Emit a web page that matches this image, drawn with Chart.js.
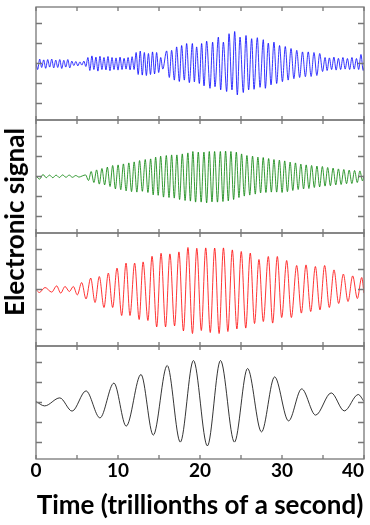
<!DOCTYPE html>
<html>
<head>
<meta charset="utf-8">
<script src="https://cdn.jsdelivr.net/npm/chart.js@4.4.1/dist/chart.umd.min.js"></script>
<style>
  html, body { margin: 0; padding: 0; background: #fff; overflow: hidden; }
  body { width: 370px; height: 525px; position: relative; font-family: Lato, sans-serif; }
  .panel { position: absolute; left: 0; width: 370px; }
  #ytitle {
    position: absolute; left: 14px; top: 222px;
    transform: translate(-50%, -50%) rotate(-90deg);
    font: bold 26px Lato, sans-serif; white-space: nowrap; color: #000;
  }
</style>
</head>
<body>
<div class="panel" style="top:0;height:122px"><canvas id="c1"></canvas></div>
<div class="panel" style="top:118px;height:117px"><canvas id="c2"></canvas></div>
<div class="panel" style="top:231px;height:117px"><canvas id="c3"></canvas></div>
<div class="panel" style="top:344px;height:181px"><canvas id="c4"></canvas></div>
<div id="ytitle">Electronic signal</div>
<script>
// time axis (trillionths of a second)
const xTicks = [0, 5, 10, 15, 20, 25, 30, 35, 40];
const xLabels = [0, 10, 20, 30, 40];
const yTicks = [-2, -1, 0, 1, 2];

// blue signal: turning points
const blueT = [0, 0.2, 0.45, 0.69, 0.94, 1.18, 1.43, 1.67, 1.92, 2.16, 2.41, 2.65, 2.9, 3.14, 3.39, 3.63, 3.88, 4.12, 4.37, 4.61, 4.86, 5.1, 5.35, 5.59, 5.84, 6.08,
  6.33, 6.57, 6.82, 7.06, 7.31, 7.55, 7.8, 8.04, 8.29, 8.53, 8.78, 9.02, 9.27, 9.51, 9.76, 10.0, 10.25, 10.49, 10.74, 10.98, 11.23, 11.47, 11.72, 11.96,
  12.21, 12.46, 12.71, 12.96, 13.21, 13.46, 13.71, 13.96, 14.21, 14.46, 14.71, 14.96, 15.21, 15.46,
  15.93, 16.26, 16.54, 16.87, 17.15, 17.48, 17.76, 18.09, 18.37, 18.7, 19.07, 19.31, 19.59, 19.92, 20.2, 20.49, 20.81, 21.22, 21.54, 21.83,
  22.24, 22.52, 22.85, 23.25, 23.54, 23.9, 24.23, 24.55, 24.88, 25.28, 25.61, 25.93, 26.3, 26.59, 26.99, 27.32, 27.72, 27.97, 28.33, 28.66, 29.02, 29.35,
  29.7, 30.05, 30.4, 30.75, 31.1, 31.45, 31.8, 32.15, 32.5, 32.85, 33.2, 33.55, 33.9, 34.25, 34.6, 34.95,
  35.25, 35.5, 35.78, 36.05, 36.33, 36.6, 36.88, 37.15, 37.43, 37.7, 37.98, 38.25, 38.53, 38.8, 39.08, 39.35, 39.63, 39.9, 40];
const blueV = [0.05, -0.3, 0.22, -0.2, 0.18, -0.24, 0.2, -0.18, 0.22, -0.22, 0.17, -0.2, 0.2, -0.25, 0.16, -0.18, 0.2, -0.22, 0.12, -0.1, 0.1, -0.12, 0.08, -0.08, 0.12, -0.15,
  0.3, -0.35, 0.38, -0.3, 0.32, -0.38, 0.36, -0.3, 0.3, -0.32, 0.35, -0.36, 0.3, -0.3, 0.28, -0.33, 0.32, -0.3, 0.26, -0.28, 0.3, -0.32, 0.34, -0.3,
  0.55, -0.55, 0.62, -0.58, 0.55, -0.6, 0.5, -0.55, 0.58, -0.52, 0.55, -0.45, 0.3, -0.28,
  0.63, -0.7, 0.66, -0.83, 0.83, -0.9, 0.9, -0.83, 1.0, -0.96, 1.0, -0.92, 0.83, -1.0, 1.0, -1.12, 1.12, -1.24, 1.07, -1.16,
  1.32, -1.32, 1.07, -1.4, 1.49, -1.32, 1.6, -1.57, 1.32, -1.45, 1.4, -1.32, 1.24, -1.29, 1.29, -1.19, 1.19, -1.24, 1.02, -1.07, 1.07, -1.0,
  0.9, -0.91, 0.85, -0.83, 0.75, -0.76, 0.66, -0.7, 0.58, -0.66, 0.58, -0.65, 0.55, -0.6, 0.5, -0.4,
  0.3, -0.35, 0.28, -0.3, 0.32, -0.33, 0.26, -0.3, 0.3, -0.28, 0.25, -0.3, 0.3, -0.28, 0.25, -0.3, 0.45, -0.35, -0.2];

// green signal
const greenT = [0, 0.45, 0.85, 1.25, 1.65, 2.05, 2.45, 2.85, 3.25, 3.65, 4.05, 4.45, 4.85, 5.25, 5.65, 6.05, 6.4,
  6.73, 7.06, 7.39, 7.72, 8.04, 8.37, 8.7, 9.03, 9.35, 9.68, 10.01, 10.34, 10.66, 10.99, 11.32, 11.65, 11.97, 12.3,
  12.63, 12.97, 13.32, 13.65, 13.98, 14.29, 14.59, 14.9, 15.2, 15.55, 15.89, 16.22, 16.54, 16.86, 17.18, 17.51, 17.84, 18.18,
  18.52, 18.83, 19.13, 19.46, 19.79, 20.14, 20.48, 20.81, 21.13, 21.46, 21.78, 22.13, 22.48, 22.8, 23.12, 23.45, 23.77, 24.1,
  24.43, 24.75, 25.07, 25.4, 25.72, 26.07, 26.41, 26.74, 27.06, 27.39, 27.71, 28.04, 28.37, 28.7, 29.02, 29.35, 29.68, 30.01,
  30.33, 30.66, 30.99, 31.32, 31.64, 31.97, 32.3, 32.63, 32.95, 33.28, 33.61, 33.94, 34.26, 34.59, 34.92, 35.25, 35.57, 35.9,
  36.23, 36.56, 36.88, 37.21, 37.54, 37.87, 38.19, 38.52, 38.85, 39.18, 39.5, 39.82, 40];
const greenV = [0.02, -0.13, 0.1, -0.06, 0.07, -0.06, 0.07, -0.05, 0.08, -0.04, 0.07, -0.04, 0.05, -0.03, 0.03, 0.08, -0.2,
  0.25, -0.3, 0.33, -0.38, 0.4, -0.42, 0.47, -0.5, 0.55, -0.62, 0.58, -0.66, 0.63, -0.72, 0.68, -0.76, 0.73, -0.78,
  0.8, -0.74, 0.85, -0.8, 0.88, -0.92, 0.97, -0.94, 1.02, -1.03, 1.05, -1.05, 1.08, -1.08, 1.08, -1.15, 1.13, -1.2,
  1.18, -1.23, 1.25, -1.28, 1.22, -1.28, 1.22, -1.32, 1.25, -1.27, 1.25, -1.28, 1.25, -1.25, 1.27, -1.22, 1.25, -1.15,
  1.22, -1.05, 1.13, -0.98, 1.05, -0.93, 1.02, -0.88, 0.97, -0.82, 0.95, -0.8, 0.9, -0.78, 0.85, -0.78, 0.82, -0.8,
  0.78, -0.76, 0.72, -0.7, 0.68, -0.65, 0.62, -0.62, 0.58, -0.6, 0.55, -0.55, 0.52, -0.52, 0.5, -0.48, 0.45, -0.46,
  0.42, -0.42, 0.38, -0.4, 0.35, -0.36, 0.32, -0.35, 0.3, -0.3, 0.28, -0.22, 0.05];

// red signal
const redT = [0, 0.41, 1.1, 1.91, 2.52, 3.01, 3.54, 4.07, 4.55, 5.04, 5.57, 6.1, 6.67, 7.2, 7.72, 8.29, 8.82, 9.35, 9.88, 10.45,
  10.98, 11.46, 12.03, 12.58, 13.06, 13.65, 14.15, 14.72, 15.25, 15.8, 16.33, 16.9, 17.43, 17.98, 18.53, 19.08, 19.61, 20.16,
  20.7, 21.25, 21.79, 22.33, 22.86, 23.4, 23.94, 24.5, 25.03, 25.58, 26.13, 26.65, 27.19, 27.72, 28.33, 28.86, 29.43, 29.96,
  30.57, 31.14, 31.79, 32.36, 32.93, 33.5, 34.07, 34.63, 35.2, 35.77, 36.34, 36.91, 37.48, 38.05, 38.62, 39.19, 39.72, 40];
const redV = [0, -0.15, 0.1, -0.13, 0.18, -0.18, 0.15, -0.1, 0.15, -0.27, 0.35, -0.47, 0.57, -0.65, 0.65, -0.9, 0.82, -0.9, 1.07, -1.3,
  1.32, -1.3, 1.32, -1.5, 1.38, -1.55, 1.66, -1.87, 1.81, -1.87, 1.78, -1.82, 1.88, -2.07, 2.1, -2.2, 2.06, -2.05,
  2.08, -2.15, 2.07, -2.2, 2.08, -2.1, 1.98, -1.97, 1.9, -1.93, 1.82, -1.7, 1.5, -1.6, 1.65, -1.68, 1.65, -1.4,
  1.45, -1.4, 1.2, -1.18, 1.23, -1.1, 1.15, -1.02, 1.2, -0.9, 0.98, -0.7, 0.77, -0.6, 0.68, -0.45, 0.6, -0.18];

// black signal
const blackT = [0, 1.05, 2.9, 4.4, 6.1, 7.8, 9.5, 11.0, 12.8, 14.3, 16.0, 17.6, 19.2, 20.9, 22.5, 24.2, 25.8, 27.5, 29.1, 30.8, 32.4, 34.1, 36.0, 37.6, 39.3, 40];
const blackV = [0.05, -0.17, 0.23, -0.43, 0.58, -0.77, 0.97, -1.18, 1.4, -1.63, 1.85, -1.98, 2.1, -2.17, 2.1, -1.98, 1.7, -1.47, 1.28, -0.92, 0.68, -0.63, 0.48, -0.42, 0.4, 0.05];

const frameColor = '#777';

const framePlugin = {
  id: 'frame',
  afterDatasetsDraw(chart) {
    const { ctx, chartArea: a, scales } = chart;
    const x = scales.x, y = scales.y;
    ctx.save();
    ctx.strokeStyle = frameColor;
    ctx.lineWidth = 1.3;
    ctx.beginPath();
    xTicks.forEach(v => {
      const px = x.getPixelForValue(v);
      ctx.moveTo(px, a.top); ctx.lineTo(px, a.top + 4);
      ctx.moveTo(px, a.bottom); ctx.lineTo(px, a.bottom - 4);
    });
    yTicks.forEach(v => {
      const py = y.getPixelForValue(v);
      ctx.moveTo(a.left, py); ctx.lineTo(a.left + 6, py);
      ctx.moveTo(a.right, py); ctx.lineTo(a.right - 6, py);
    });
    ctx.stroke();
    ctx.strokeRect(a.left, a.top, a.right - a.left, a.bottom - a.top);
    ctx.restore();
  }
};

function makePanel(id, T, V, color, padTop, withAxis) {
  const xScale = {
    type: 'linear', min: 0, max: 40,
    display: withAxis,
    grid: { display: false, drawTicks: false, tickLength: 0 },
    border: { display: false }
  };
  if (withAxis) {
    xScale.afterBuildTicks = s => { s.ticks = xLabels.map(v => ({ value: v })); };
    xScale.ticks = {
      autoSkip: false, maxRotation: 0, padding: 0, color: '#000',
      font: { family: 'Lato', size: 19, weight: 'bold' },
      callback: v => v === 40 ? '40\u2007\u2007' : String(v)
    };
    xScale.title = {
      display: true, text: 'Time (trillionths of a second)', color: '#000',
      font: { family: 'Lato', size: 26, weight: 'bold' },
      padding: { top: 0, bottom: 4 }
    };
    xScale.afterFit = s => { s.height = 66; s.paddingLeft = 0; s.paddingRight = 0; };
  }
  return new Chart(document.getElementById(id), {
    type: 'line',
    data: {
      datasets: [{
        data: T.map((t, i) => ({ x: t, y: V[i] })),
        borderColor: color,
        borderWidth: 0.8,
        pointRadius: 0,
        cubicInterpolationMode: 'monotone',
        fill: false
      }]
    },
    options: {
      responsive: true,
      maintainAspectRatio: false,
      animation: false,
      events: [],
      layout: { padding: { left: 36, right: 6, top: padTop, bottom: withAxis ? 0 : 2 } },
      plugins: { legend: { display: false }, tooltip: { enabled: false } },
      scales: {
        x: xScale,
        y: { type: 'linear', min: -2.825, max: 2.825, display: false }
      }
    },
    plugins: [framePlugin]
  });
}

makePanel('c1', blueT, blueV, '#0000ff', 7, false);
makePanel('c2', greenT, greenV, '#008000', 2, false);
makePanel('c3', redT, redV, '#ff0000', 2, false);
makePanel('c4', blackT, blackV, '#000000', 2, true);
</script>
</body>
</html>
